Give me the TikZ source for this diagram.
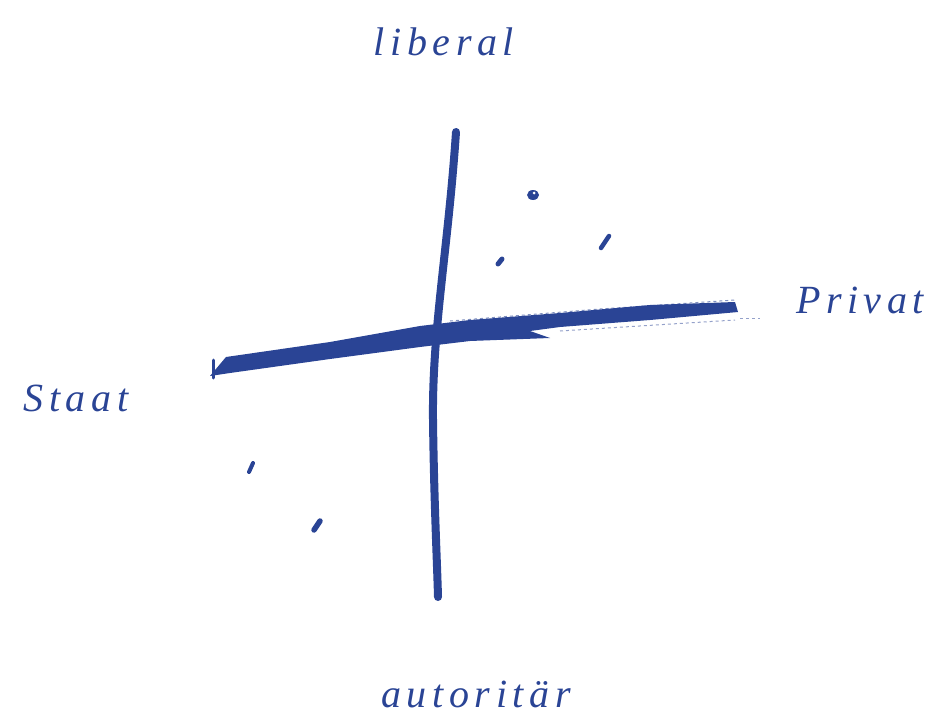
\documentclass[tikz,border=0pt]{standalone}
\usepackage{fontspec}
\setmainfont{Liberation Serif}
\definecolor{ink}{HTML}{2A4495}
\tikzset{
  lbl/.style={text=ink, font=\fontsize{40}{40}\selectfont\itshape\addfontfeatures{LetterSpace=14}, inner sep=0pt},
  axis/.style={draw=ink, line width=8pt, line cap=round, line join=round},
  speck/.style={fill=ink},
}
\begin{document}
\begin{tikzpicture}[x=1pt,y=-1pt]
\useasboundingbox (0,0) rectangle (936,722);
% vertical axis
\coordinate (vtop) at (456,132);
\coordinate (vbot) at (438,597);
\draw[axis] (vtop) .. controls (448,250) and (432,330) .. (433,420) .. controls (434,500) and (437,560) .. (vbot);
% horizontal axis as filled stroke
\fill[ink] (210,376) -- (226,357) -- (330,342) -- (420,326) -- (470,320) -- (560,313)
  -- (650,305) -- (735,302) -- (738,312) -- (650,320) -- (560,327) -- (530,331)
  -- (550,338) -- (470,341) -- (420,347) -- (330,359) -- (230,373) -- cycle;
\draw[ink, line width=3pt, line cap=round] (213,360) -- (213,378);
\draw[ink, line width=1pt, opacity=0.6, dashed] (450,321) -- (600,309) -- (735,300);
\draw[ink, line width=1pt, opacity=0.5, dashed] (560,331) -- (735,320);
\draw[ink, line width=1pt, opacity=0.5, dashed] (740,318) -- (760,318);
\coordinate (hleft) at (210,372);
\coordinate (hright) at (738,307);
% dots
\fill[speck] (533,195) ellipse (6pt and 5pt);
\fill[white] (534,193) circle (1.5pt);
\draw[ink, line width=5pt, line cap=round] (498,264) -- (502,259);
\draw[ink, line width=4.5pt, line cap=round] (601,248) -- (609,236);
\draw[ink, line width=4pt, line cap=round] (249,472) -- (253,463);
\draw[ink, line width=5.5pt, line cap=round] (314,530) -- (320,521);
% labels
\node[lbl] (lib) at (444,42) {liberal};
\node[lbl] (aut) at (476,694) {autoritär};
\node[lbl] (staat) at (76,398) {Staat};
\node[lbl] (priv) at (860,300) {Privat};
\end{tikzpicture}
\end{document}
